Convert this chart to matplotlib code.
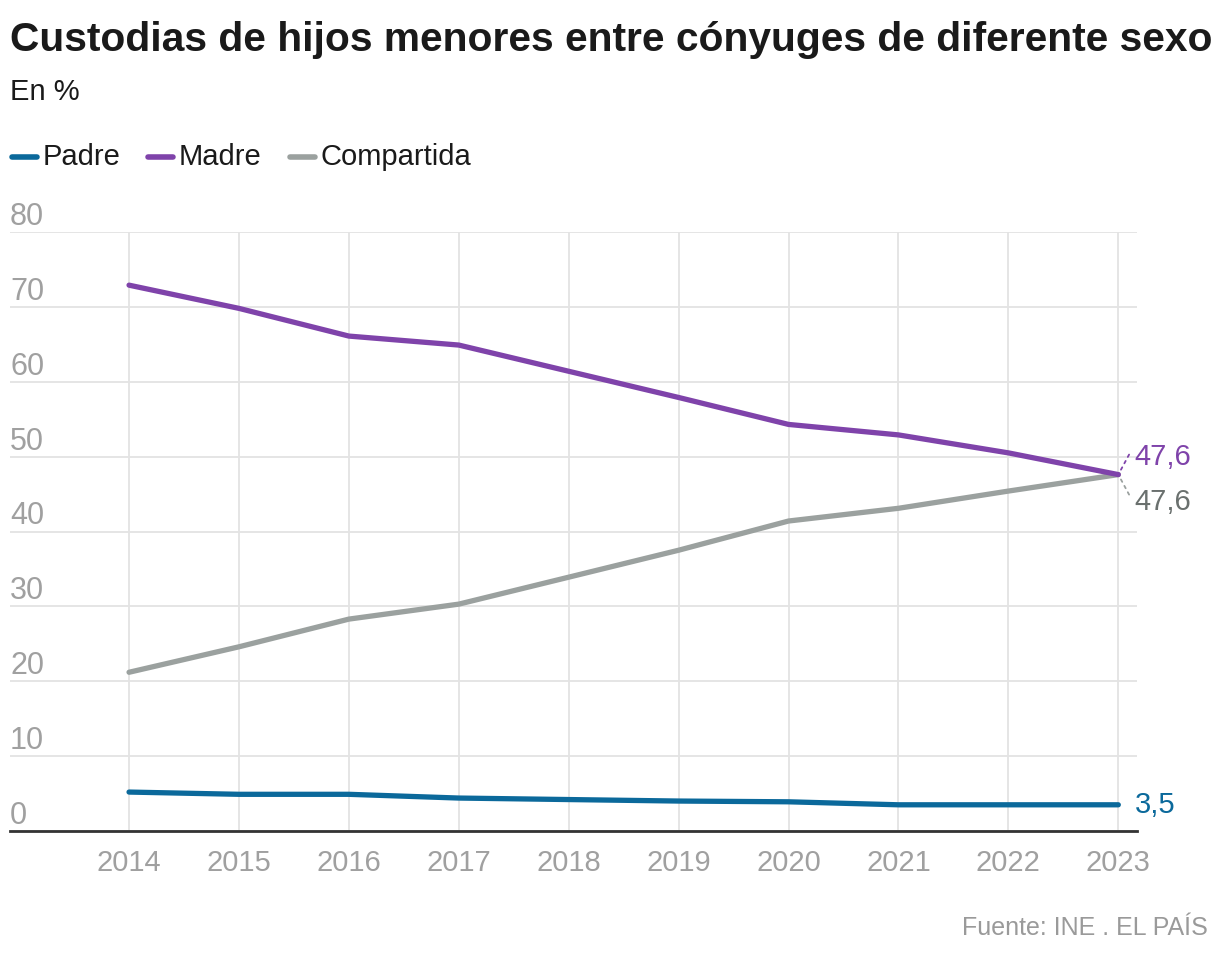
import matplotlib
matplotlib.use('Agg')
import matplotlib.pyplot as plt
import matplotlib.transforms as mtransforms

plt.rcParams['font.family'] = ['Liberation Sans', 'DejaVu Sans']

# --- data ---
years = [2014, 2015, 2016, 2017, 2018, 2019, 2020, 2021, 2022, 2023]
padre = [5.2, 4.9, 4.9, 4.4, 4.2, 4.0, 3.9, 3.5, 3.5, 3.5]
madre = [72.9, 69.8, 66.1, 64.9, 61.4, 57.9, 54.3, 52.9, 50.5, 47.6]
compartida = [21.2, 24.6, 28.3, 30.3, 33.9, 37.5, 41.4, 43.1, 45.4, 47.6]
y_ticks = [0, 10, 20, 30, 40, 50, 60, 70, 80]

c_padre = '#0b699b'
c_madre = '#7f43aa'
c_comp = '#9ba19f'
c_comp_text = '#6a706e'
c_tick = '#a0a0a0'


def main():
    fig = plt.figure(figsize=(12.2, 9.58), dpi=100)
    ax = fig.add_axes([10 / 1220, 1 - 831 / 958, 1127 / 1220, 599 / 958])

    lw = 3.8
    ax.plot(years, padre, color=c_padre, lw=lw, solid_capstyle='round', zorder=3, clip_on=False)
    ax.plot(years, compartida, color=c_comp, lw=lw, solid_capstyle='round', zorder=3, clip_on=False)
    ax.plot(years, madre, color=c_madre, lw=lw, solid_capstyle='round', zorder=4, clip_on=False)

    ax.set_xlim(2012.917, 2023.17)
    ax.set_ylim(0, 80)

    # grid
    ax.set_xticks(years)
    ax.set_yticks(y_ticks)
    ax.grid(True, color='#e3e3e3', lw=1.3, zorder=0)
    ax.set_axisbelow(True)
    for s in ['top', 'right', 'left']:
        ax.spines[s].set_visible(False)
    ax.spines['bottom'].set_color('#333333')
    ax.spines['bottom'].set_linewidth(2)
    ax.tick_params(axis='x', length=0, pad=13, labelsize=21, labelcolor=c_tick)
    ax.tick_params(axis='y', length=0, labelleft=False)

    # y labels above gridlines
    trans = mtransforms.blended_transform_factory(ax.transAxes, ax.transData)
    for v in y_ticks:
        ax.annotate(str(v), xy=(0, v), xycoords=trans, xytext=(0, 0),
                    textcoords='offset points', ha='left', va='bottom',
                    fontsize=22, color=c_tick)

    # end labels
    x_end = years[-1]
    ax.annotate('', xy=(x_end, madre[-1]), xytext=(x_end + 0.11, madre[-1] + 3.0),
                arrowprops=dict(arrowstyle='-', color=c_madre, lw=1.3, ls=(0, (1.5, 2.5))),
                annotation_clip=False)
    ax.annotate('', xy=(x_end, compartida[-1]), xytext=(x_end + 0.11, compartida[-1] - 3.0),
                arrowprops=dict(arrowstyle='-', color=c_comp, lw=1.3, ls=(0, (1.5, 2.5))),
                annotation_clip=False)
    ax.text(x_end + 0.15, madre[-1] + 2.3, f"{madre[-1]:.1f}".replace('.', ','),
            color=c_madre, fontsize=21, ha='left', va='center')
    ax.text(x_end + 0.15, compartida[-1] - 3.7, f"{compartida[-1]:.1f}".replace('.', ','),
            color=c_comp_text, fontsize=21, ha='left', va='center')
    ax.text(x_end + 0.15, padre[-1], f"{padre[-1]:.1f}".replace('.', ','),
            color=c_padre, fontsize=21, ha='left', va='center')

    # title, subtitle
    fig.text(10 / 1220, 1 - 40 / 958, 'Custodias de hijos menores entre cónyuges de diferente sexo',
             fontsize=29.3, fontweight='bold', color='#1a1a1a', ha='left', va='center')
    fig.text(10 / 1220, 1 - 92 / 958, 'En %', fontsize=21, color='#1a1a1a', ha='left', va='center')

    # legend (manual)
    leg_y = 1 - 157 / 958
    items = [('Padre', c_padre, 12), ('Madre', c_madre, 148), ('Compartida', c_comp, 290)]
    for name, col, x0 in items:
        fig.add_artist(plt.Line2D([x0 / 1220, (x0 + 25) / 1220], [leg_y, leg_y], color=col,
                                  lw=4, solid_capstyle='round', transform=fig.transFigure))
        fig.text((x0 + 31) / 1220, leg_y, name, fontsize=21, color='#1a1a1a', ha='left', va='center')

    # source
    fig.text(1208 / 1220, 1 - 928 / 958, 'Fuente: INE . EL PAÍS', fontsize=18, color='#9a9a9a',
             ha='right', va='center')

    fig.savefig('out.png', dpi=100)


if __name__ == '__main__':
    main()
